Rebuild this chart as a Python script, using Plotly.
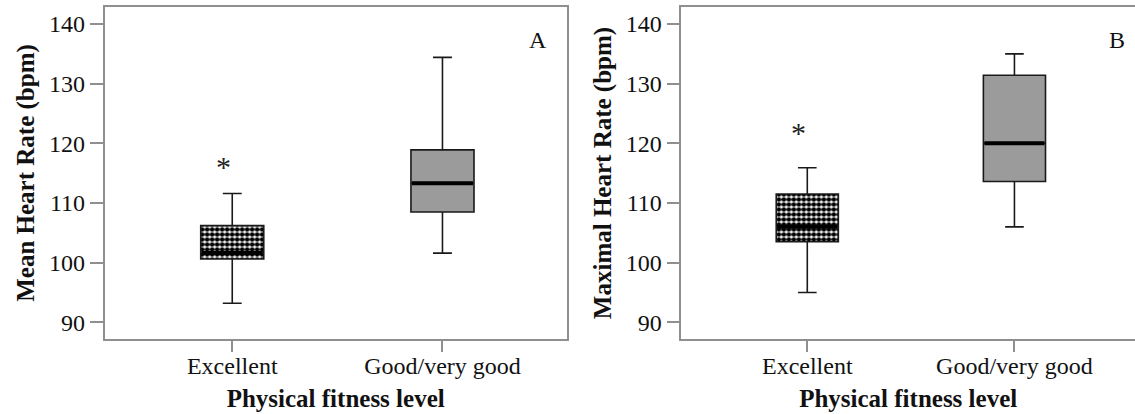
import plotly.graph_objects as go

# ---- data ----
categories = ["Excellent", "Good/very good"]

mean_q1 = [100.6, 108.5]
mean_median = [101.6, 113.3]
mean_q3 = [106.2, 118.9]
mean_low = [93.2, 101.6]
mean_high = [111.6, 134.4]
mean_outlier_cat = ["Excellent"]
mean_outlier_val = [116.7]

max_q1 = [103.5, 113.6]
max_median = [106.0, 120.0]
max_q3 = [111.5, 131.4]
max_low = [95.0, 106.0]
max_high = [115.9, 135.0]
max_outlier_cat = ["Excellent"]
max_outlier_val = [122.4]

y_ticks = [90, 100, 110, 120, 130, 140]

FONT = "Liberation Serif"
FRAME = "#8f8f8f"
BOXW = 0.3
GRAY = "#9b9b9b"

fig = go.Figure()


def add_panel(xa, ya, q1, med, q3, lo, hi, ocat, oval):
    # fills: patterned for Excellent, solid gray for Good/very good
    fig.add_trace(go.Bar(
        x=[categories[0]], y=[q3[0] - q1[0]], base=[q1[0]], width=BOXW,
        marker=dict(color="white", line=dict(width=0),
                    pattern=dict(shape=".", fgcolor="black", bgcolor="white",
                                 fgopacity=1, size=5, solidity=0.7)),
        xaxis=xa, yaxis=ya, showlegend=False, hoverinfo="skip"))
    fig.add_trace(go.Bar(
        x=[categories[1]], y=[q3[1] - q1[1]], base=[q1[1]], width=BOXW,
        marker=dict(color=GRAY, line=dict(width=0)),
        xaxis=xa, yaxis=ya, showlegend=False, hoverinfo="skip"))
    # box outlines and whiskers
    fig.add_trace(go.Box(
        x=categories, q1=q1, median=med, q3=q3, lowerfence=lo, upperfence=hi,
        width=BOXW, whiskerwidth=0.3, boxpoints=False,
        fillcolor="rgba(0,0,0,0)", line=dict(color="#1a1a1a", width=1.6),
        xaxis=xa, yaxis=ya, showlegend=False, hoverinfo="skip"))
    # thick median lines
    fig.add_trace(go.Box(
        x=categories, q1=med, median=med, q3=med, lowerfence=med, upperfence=med,
        width=BOXW - 0.01, whiskerwidth=0, boxpoints=False,
        fillcolor="rgba(0,0,0,0)", line=dict(color="black", width=4),
        xaxis=xa, yaxis=ya, showlegend=False, hoverinfo="skip"))
    # outliers as asterisks
    for c, v in zip(ocat, oval):
        fig.add_annotation(x=c, y=v, xref=xa, yref=ya, text="*", showarrow=False,
                           xshift=-9, yshift=-3,
                           font=dict(family=FONT, size=30, color="#222"))


add_panel("x", "y", mean_q1, mean_median, mean_q3, mean_low, mean_high,
          mean_outlier_cat, mean_outlier_val)
add_panel("x2", "y2", max_q1, max_median, max_q3, max_low, max_high,
          max_outlier_cat, max_outlier_val)

axis_common = dict(showline=True, linecolor=FRAME, linewidth=1.5, ticks="outside",
                   tickcolor=FRAME, tickwidth=1.5, showgrid=False, zeroline=False,
                   tickfont=dict(family=FONT, size=24, color="#111"))

yrange = [87.2, 142.85]

fig.update_layout(
    width=1135, height=414,
    margin=dict(l=0, r=0, t=7, b=75),
    paper_bgcolor="white", plot_bgcolor="white",
    barmode="overlay", boxmode="overlay",
    xaxis=dict(domain=[0.0922, 0.4993], range=[-0.607, 1.591], type="category",
               categoryorder="array", categoryarray=categories, mirror=True,
               ticklen=11, ticklabelstandoff=-7,
               title=dict(text="<b>Physical fitness level</b>", standoff=12,
                          font=dict(family=FONT, size=25, color="#111")),
               **axis_common),
    yaxis=dict(domain=[0, 1], range=yrange, tickvals=y_ticks, mirror=True, ticklen=13,
               anchor="x",
               title=dict(text="<b>Mean Heart Rate (bpm)</b>", standoff=7,
                          font=dict(family=FONT, size=25, color="#111")),
               **axis_common),
    xaxis2=dict(domain=[0.6003, 1.0], range=[-0.608, 1.582], type="category",
                categoryorder="array", categoryarray=categories, mirror=True,
                ticklen=11, ticklabelstandoff=-7, anchor="y2",
                title=dict(text="<b>Physical fitness level</b>", standoff=12,
                           font=dict(family=FONT, size=25, color="#111")),
                **axis_common),
    yaxis2=dict(domain=[0, 1], range=yrange, tickvals=y_ticks, mirror=False, ticklen=13,
                anchor="x2",
                title=dict(text="<b>Maximal Heart Rate (bpm)</b>", standoff=7,
                           font=dict(family=FONT, size=25, color="#111")),
                **axis_common),
)

fig.add_annotation(x=0.962, y=0.945, xref="x domain", yref="y domain", text="A",
                   showarrow=False, font=dict(family=FONT, size=24, color="#111"))
fig.add_annotation(x=0.982, y=0.945, xref="x2 domain", yref="y2 domain", text="B",
                   showarrow=False, font=dict(family=FONT, size=24, color="#111"))

fig.write_html("out.html", config={"displayModeBar": False},
               post_script="document.body.style.margin='0';document.body.style.overflow='hidden';")
